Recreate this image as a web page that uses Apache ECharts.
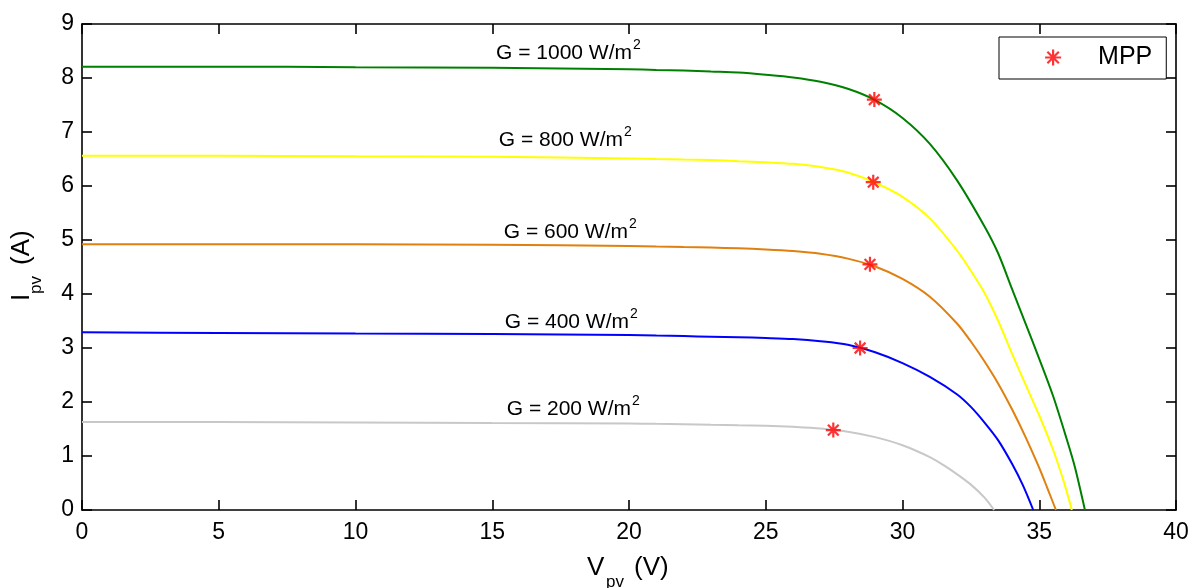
<!DOCTYPE html>
<html>
<head>
<meta charset="utf-8">
<script src="https://cdn.jsdelivr.net/npm/echarts/dist/echarts.min.js"></script>
<style>
	html,body{margin:0;padding:0;background:#fff;}
	#main{width:1193px;height:588px;}
</style>
</head>
<body>
<div id="main"></div>
<script>
// I-V curves (V in volts, I in amperes)
var V_1000 = [0, 5, 10, 15, 20, 21, 22, 23, 24, 25, 26, 27, 28, 29, 30, 31, 32, 33, 33.5, 34, 34.5, 35, 35.5, 36, 36.3, 36.67];
var I_1000 = [8.21, 8.21, 8.20, 8.19, 8.16, 8.15, 8.14, 8.12, 8.10, 8.06, 8.01, 7.93, 7.80, 7.59, 7.26, 6.78, 6.10, 5.25, 4.75, 4.10, 3.45, 2.80, 2.12, 1.32, 0.80, 0];

var V_800 = [0, 5, 10, 15, 20, 21, 22, 23, 24, 25, 26, 27, 28, 29, 30, 31, 32, 32.5, 33, 33.5, 34, 34.5, 35, 35.5, 35.9, 36.19];
var I_800 = [6.56, 6.56, 6.55, 6.54, 6.51, 6.50, 6.49, 6.48, 6.46, 6.44, 6.41, 6.35, 6.25, 6.06, 5.80, 5.40, 4.80, 4.43, 4.02, 3.50, 2.90, 2.32, 1.75, 1.12, 0.52, 0];

var V_600 = [0, 5, 10, 15, 20, 21, 22, 23, 24, 25, 26, 27, 28, 29, 30, 31, 32, 32.5, 33, 33.5, 34, 34.5, 35, 35.3, 35.61];
var I_600 = [4.92, 4.92, 4.92, 4.91, 4.89, 4.88, 4.87, 4.86, 4.845, 4.825, 4.795, 4.745, 4.655, 4.51, 4.28, 3.95, 3.45, 3.12, 2.75, 2.34, 1.87, 1.35, 0.78, 0.40, 0];

var V_400 = [0, 5, 10, 15, 20, 21, 22, 23, 24, 25, 26, 27, 28, 29, 30, 31, 32, 32.5, 33, 33.5, 34, 34.4, 34.78];
var I_400 = [3.29, 3.28, 3.27, 3.26, 3.24, 3.23, 3.22, 3.21, 3.20, 3.185, 3.165, 3.125, 3.06, 2.92, 2.72, 2.465, 2.14, 1.91, 1.62, 1.29, 0.86, 0.46, 0];

var V_200 = [0, 5, 10, 15, 20, 21, 22, 23, 24, 25, 26, 27, 28, 29, 30, 31, 31.5, 32, 32.5, 33, 33.35];
var I_200 = [1.63, 1.63, 1.62, 1.61, 1.60, 1.595, 1.59, 1.58, 1.57, 1.56, 1.54, 1.51, 1.45, 1.35, 1.20, 0.98, 0.83, 0.66, 0.47, 0.23, 0];

// maximum power points
var mppV = [28.97, 28.93, 28.81, 28.45, 27.47];
var mppI = [7.60, 6.07, 4.55, 3.00, 1.48];

var curveNames = ['G = 1000', 'G = 800', 'G = 600', 'G = 400', 'G = 200'];
var curveColors = ['#008000', '#ffff00', '#e0800f', '#0000ff', '#c8c8c8'];

var FONT = '"Liberation Sans", Arial, Helvetica, sans-serif';
var STAR = 'path://M0,-7L0,7M-7,0L7,0M-5,-5L5,5M-5,5L5,-5';

function pairs(xs, ys){
	var out = [];
	for (var i=0; i<xs.length; i++){
		out.push([xs[i], ys[i]]);
	}
	return out;
}

var curves = [[V_1000, I_1000], [V_800, I_800], [V_600, I_600], [V_400, I_400], [V_200, I_200]];

var series = [];
for (var k=0; k<curves.length; k++){
	series.push({
		name: curveNames[k],
		type: 'line',
		data: pairs(curves[k][0], curves[k][1]),
		showSymbol: false,
		smooth: 0.3,
		lineStyle: {color: curveColors[k], width: 2},
		itemStyle: {color: curveColors[k]},
		z: 2
	});
}
series.push({
	name: 'MPP',
	type: 'scatter',
	data: pairs(mppV, mppI),
	symbol: STAR,
	symbolSize: 15,
	itemStyle: {color: 'rgba(0,0,0,0)', borderColor: '#ff0000', borderWidth: 2.2},
	z: 5
});

// in-plot labels, "G = ... W/m" + superscript 2
function gLabel(txt, right, cy){
	return {
		type: 'group',
		children: [
			{type: 'text', x: right, y: cy, style: {text: txt, font: '21px ' + FONT, fill: '#000', textAlign: 'right', textVerticalAlign: 'middle'}},
			{type: 'text', x: right + 1, y: cy - 8, style: {text: '2', font: '14px ' + FONT, fill: '#000', textAlign: 'left', textVerticalAlign: 'middle'}}
		]
	};
}

function axisCommon(){
	return {
		axisLine: {show: true, onZero: false, lineStyle: {color: '#000', width: 1.6}},
		axisTick: {show: true, inside: true, length: 10, lineStyle: {color: '#000', width: 1.6}},
		splitLine: {show: false}
	};
}

var option = {
	animation: false,
	backgroundColor: '#fff',
	grid: {left: 82, right: 17, top: 24, bottom: 78, containLabel: false},
	xAxis: [
		Object.assign({
			type: 'value', min: 0, max: 40, interval: 5, position: 'bottom',
			axisLabel: {color: '#000', fontSize: 23, fontFamily: FONT, margin: 11}
		}, axisCommon()),
		Object.assign({
			type: 'value', min: 0, max: 40, interval: 5, position: 'top',
			axisLabel: {show: false}
		}, axisCommon())
	],
	yAxis: [
		Object.assign({
			type: 'value', min: 0, max: 9, interval: 1, position: 'left',
			axisLabel: {color: '#000', fontSize: 23, fontFamily: FONT, margin: 8}
		}, axisCommon()),
		Object.assign({
			type: 'value', min: 0, max: 9, interval: 1, position: 'right',
			axisLabel: {show: false}
		}, axisCommon())
	],
	legend: {
		data: ['MPP'],
		left: 999,
		top: 37,
		padding: [8, 14, 9, 45],
		itemWidth: 16,
		itemHeight: 16,
		icon: STAR,
		itemStyle: {color: 'rgba(0,0,0,0)', borderColor: '#ff0000', borderWidth: 2.2},
		backgroundColor: '#fff',
		borderColor: '#000',
		borderWidth: 1,
		borderRadius: 0,
		textStyle: {color: '#000', fontSize: 25, fontFamily: FONT, padding: [0, 0, 0, 32]}
	},
	graphic: [
		gLabel('G = 1000 W/m', 632, 53),
		gLabel('G = 800 W/m', 623, 140),
		gLabel('G = 600 W/m', 628, 232),
		gLabel('G = 400 W/m', 629, 322),
		gLabel('G = 200 W/m', 631, 409),
		// x axis name
		{type: 'text', x: 587, y: 568, style: {text: 'V', font: '26px ' + FONT, fill: '#000', textAlign: 'left', textVerticalAlign: 'middle'}},
		{type: 'text', x: 606, y: 582, style: {text: 'pv', font: '17px ' + FONT, fill: '#000', textAlign: 'left', textVerticalAlign: 'middle'}},
		{type: 'text', x: 634, y: 568, style: {text: '(V)', font: '26px ' + FONT, fill: '#000', textAlign: 'left', textVerticalAlign: 'middle'}},
		// y axis name, rotated
		{
			type: 'group', x: 22, y: 268, rotation: Math.PI / 2,
			children: [
				{type: 'text', x: -33, y: 0, style: {text: 'I', font: '26px ' + FONT, fill: '#000', textAlign: 'left', textVerticalAlign: 'middle'}},
				{type: 'text', x: -26, y: 14, style: {text: 'pv', font: '17px ' + FONT, fill: '#000', textAlign: 'left', textVerticalAlign: 'middle'}},
				{type: 'text', x: 3, y: 0, style: {text: '(A)', font: '26px ' + FONT, fill: '#000', textAlign: 'left', textVerticalAlign: 'middle'}}
			]
		}
	],
	series: series
};

var myChart = echarts.init(document.getElementById('main'));
myChart.setOption(option);
</script>
</body>
</html>
